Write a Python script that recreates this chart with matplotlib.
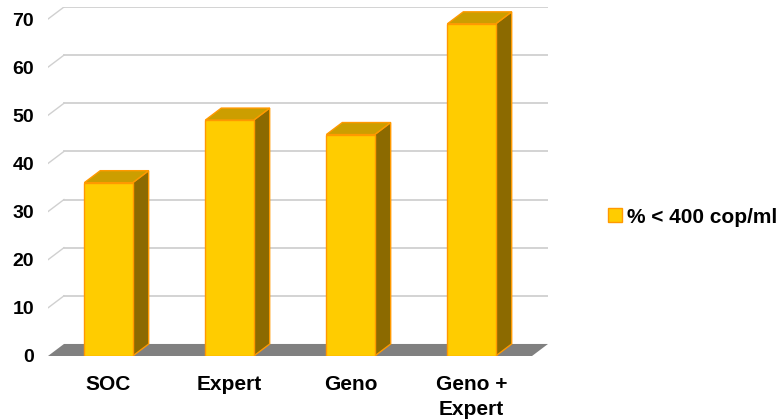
import matplotlib
matplotlib.use("Agg")
from matplotlib import pyplot as plt
from matplotlib.patches import Polygon, Patch

plt.rcParams['font.family'] = ['Liberation Sans', 'DejaVu Sans']

# data
categories = ["SOC", "Expert", "Geno", "Geno +\nExpert"]
values = [36, 49, 46, 69]
yticks = [0, 10, 20, 30, 40, 50, 60, 70]
series_name = "% < 400 cop/ml"

# 3D look: depth offset in category units and value units
dx = 0.132
dy = 2.5
bar_w = 0.4

front_col = "#FFCC00"
side_col = "#8C6A00"
top_col = "#CC9E00"
edge_col = "#FF9900"

fig = plt.figure(figsize=(7.82, 4.20), dpi=100)
ax = fig.add_axes([48 / 782, 1 - 356 / 420, 500 / 782, 349 / 420])
ax.set_xlim(-0.5, len(categories) - 0.5 + dx)
ax.set_ylim(0, yticks[-1] + dy)

x0, x1 = -0.5, len(categories) - 0.5

# back wall gridlines + left wall diagonals
for v in yticks[1:]:
    ax.plot([x0 + dx, x1 + dx], [v + dy, v + dy], color="#D0D0D0", lw=1.3, zorder=1)
    ax.plot([x0, x0 + dx], [v, v + dy], color="#D0D0D0", lw=1.0, zorder=1)

# floor
ax.add_patch(Polygon([(x0, 0), (x1, 0), (x1 + dx, dy), (x0 + dx, dy)],
                     closed=True, facecolor="#808080", edgecolor="none", zorder=2))

# bars
xs = list(range(len(categories)))
ax.bar(xs, values, width=bar_w, color=front_col, edgecolor=edge_col,
       linewidth=1.0, zorder=4)
for x, v in zip(xs, values):
    r = x + bar_w / 2
    l = x - bar_w / 2
    ax.add_patch(Polygon([(r, 0), (r + dx, dy), (r + dx, v + dy), (r, v)],
                         closed=True, facecolor=side_col, edgecolor=edge_col,
                         linewidth=1.0, zorder=3))
    ax.add_patch(Polygon([(l, v), (r, v), (r + dx, v + dy), (l + dx, v + dy)],
                         closed=True, facecolor=top_col, edgecolor=edge_col,
                         linewidth=1.0, zorder=3))

ax.set_xticks(xs)
ax.set_xticklabels(categories, fontsize=15, fontweight="bold", linespacing=1.35)
ax.set_yticks(yticks)
ax.set_yticklabels([str(t) for t in yticks], fontsize=14, fontweight="bold")
ax.tick_params(axis="x", length=0, pad=14)
ax.tick_params(axis="y", length=0, pad=10)
for s in ax.spines.values():
    s.set_visible(False)

handle = Patch(facecolor=front_col, edgecolor=edge_col, label=series_name)
fig.legend(handles=[handle], loc="center left", bbox_to_anchor=(0.753, 0.483),
           frameon=False, handlelength=0.67, handleheight=0.67, handletextpad=0.25,
           prop={"weight": "bold", "size": 15})

fig.savefig("out.png", dpi=100)
